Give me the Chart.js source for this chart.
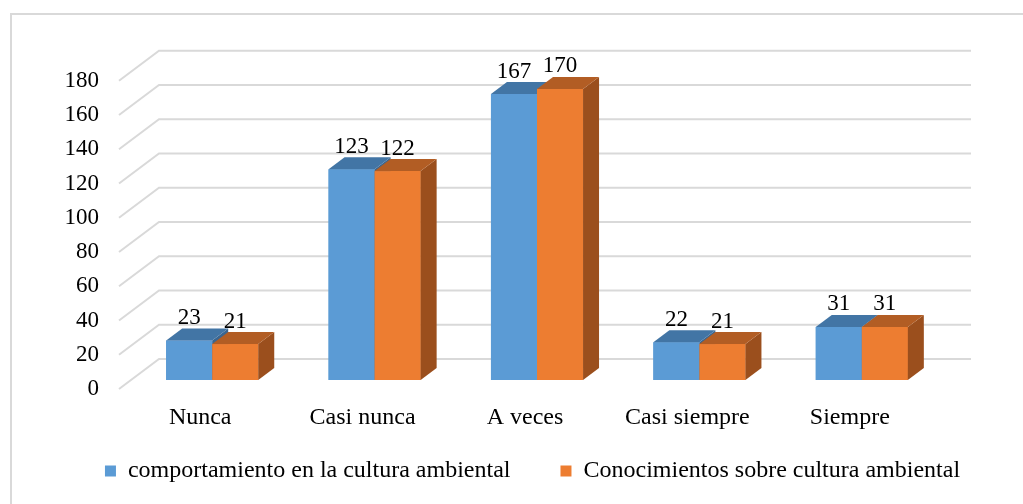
<!DOCTYPE html>
<html>
<head>
<meta charset="utf-8">
<script src="https://cdn.jsdelivr.net/npm/chart.js@4.4.0/dist/chart.umd.min.js"></script>
<style>
html, body { margin: 0; padding: 0; background: #fff; }
#wrap { width: 1023px; height: 504px; }
</style>
</head>
<body>
<div id="wrap"><canvas id="grafico" width="1023" height="504"></canvas></div>
<script>
// Datos del gráfico
var categorias = ['Nunca', 'Casi nunca', 'A veces', 'Casi siempre', 'Siempre'];
var comportamiento = [23, 123, 167, 22, 31];
var conocimientos = [21, 122, 170, 21, 31];
var nombresSeries = ['comportamiento en la cultura ambiental', 'Conocimientos sobre cultura ambiental'];
var valorMinimoY = 0;
var valorMaximoY = 180;
var pasoY = 20;

// Colores (frente, arriba, lado)
var coloresFrente = ['#5B9BD5', '#ED7D31'];
var coloresArriba = ['#4275A5', '#B25D24'];
var coloresLado = ['#3A6691', '#9B4F1D'];

var fuente = 'Liberation Serif, Times New Roman, serif';

// Desplazamientos para simular el 3D
var profBarra = { dx: 16, dy: 12 };
var fondo = { dx: 28, dy: 21 };
var frente = { dx: 12, dy: 9 };

var efecto3d = {
    id: 'efecto3d',
    beforeDraw: function (chart) {
        var ctx = chart.ctx;
        ctx.save();
        ctx.fillStyle = '#D9D9D9';
        ctx.fillRect(10, 13, 1013, 2); // borde superior
        ctx.fillRect(10, 13, 2, 491);  // borde izquierdo
        ctx.restore();
    },
    beforeDatasetsDraw: function (chart) {
        var ctx = chart.ctx;
        var area = chart.chartArea;
        var y = chart.scales.y;
        ctx.save();
        ctx.strokeStyle = '#D9D9D9';
        ctx.lineWidth = 2;
        for (var v = valorMinimoY; v <= valorMaximoY; v += pasoY) {
            var p = y.getPixelForValue(v);
            ctx.beginPath();
            ctx.moveTo(area.left - frente.dx, p + frente.dy);
            ctx.lineTo(area.left + fondo.dx, p - fondo.dy);
            ctx.lineTo(area.right + fondo.dx, p - fondo.dy);
            ctx.stroke();
        }
        ctx.restore();
    },
    afterDatasetsDraw: function (chart) {
        var ctx = chart.ctx;
        ctx.save();
        // caras de cada barra, de izquierda a derecha (frente, lado, arriba)
        categorias.forEach(function (c, j) {
            chart.data.datasets.forEach(function (ds, i) {
                var barra = chart.getDatasetMeta(i).data[j];
                var izq = barra.x - barra.width / 2;
                var der = barra.x + barra.width / 2;
                var arriba = barra.y;
                var base = barra.base;
                ctx.fillStyle = coloresFrente[i];
                ctx.fillRect(izq, arriba, der - izq, base - arriba);
                ctx.fillStyle = coloresLado[i];
                ctx.beginPath();
                ctx.moveTo(der, arriba);
                ctx.lineTo(der + profBarra.dx, arriba - profBarra.dy);
                ctx.lineTo(der + profBarra.dx, base - profBarra.dy);
                ctx.lineTo(der, base);
                ctx.closePath();
                ctx.fill();
                ctx.fillStyle = coloresArriba[i];
                ctx.beginPath();
                ctx.moveTo(izq, arriba);
                ctx.lineTo(izq + profBarra.dx, arriba - profBarra.dy);
                ctx.lineTo(der + profBarra.dx, arriba - profBarra.dy);
                ctx.lineTo(der, arriba);
                ctx.closePath();
                ctx.fill();
            });
        });
        // etiquetas de valores
        ctx.font = '23px ' + fuente;
        ctx.fillStyle = '#000';
        ctx.textAlign = 'center';
        ctx.textBaseline = 'alphabetic';
        chart.data.datasets.forEach(function (ds, i) {
            chart.getDatasetMeta(i).data.forEach(function (barra, j) {
                ctx.fillText(String(ds.data[j]), barra.x, barra.y - 16.5);
            });
        });
        ctx.restore();
    }
};

var ctx = document.getElementById('grafico').getContext('2d');
var grafico = new Chart(ctx, {
    type: 'bar',
    data: {
        labels: categorias,
        datasets: [{
            label: nombresSeries[0],
            data: comportamiento,
            backgroundColor: coloresFrente[0],
            borderWidth: 0
        }, {
            label: nombresSeries[1],
            data: conocimientos,
            backgroundColor: coloresFrente[1],
            borderWidth: 0
        }]
    },
    plugins: [efecto3d],
    options: {
        responsive: false,
        animation: false,
        events: [],
        layout: {
            padding: { left: 42, right: 0, top: 71.75, bottom: 11 }
        },
        datasets: {
            bar: { barPercentage: 1, categoryPercentage: 0.567 }
        },
        scales: {
            x: {
                grid: { display: false, drawTicks: false },
                border: { display: false },
                ticks: {
                    color: '#000',
                    font: { family: fuente, size: 24 },
                    mirror: true,     // evita el recorte de las etiquetas
                    padding: -52.4,   // etiquetas debajo del área
                    labelOffset: -frente.dx
                },
                afterFit: function (scale) { scale.height = 29; }
            },
            y: {
                min: valorMinimoY,
                max: valorMaximoY,
                grid: { display: false, drawTicks: false },
                border: { display: false },
                ticks: {
                    stepSize: pasoY,
                    autoSkip: false,
                    color: '#000',
                    font: { family: fuente, size: 23 },
                    padding: 32,
                    labelOffset: frente.dy
                },
                afterFit: function (scale) { scale.width = 89; }
            },
            // eje vacío a la derecha, solo reserva el margen
            margenDerecho: {
                type: 'linear',
                position: 'right',
                grid: { display: false, drawTicks: false },
                border: { display: false },
                ticks: { display: false },
                afterFit: function (scale) { scale.width = 80; }
            }
        },
        plugins: {
            legend: {
                position: 'bottom',
                labels: {
                    boxWidth: 11,
                    boxHeight: 11,
                    padding: 50,
                    color: '#000',
                    font: { family: fuente, size: 24 }
                }
            },
            tooltip: { enabled: false }
        }
    }
});
</script>
</body>
</html>
